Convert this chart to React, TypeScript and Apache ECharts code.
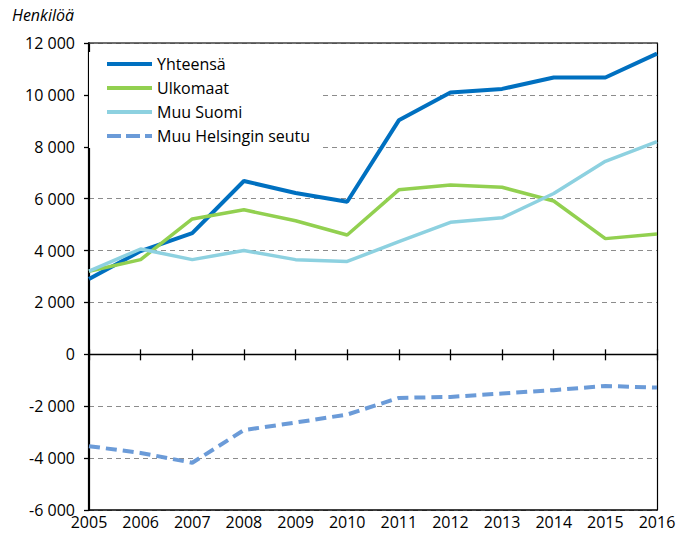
import React, { useEffect, useRef } from "react";
import * as echarts from "echarts";

const years = ["2005","2006","2007","2008","2009","2010","2011","2012","2013","2014","2015","2016"];
const yhteensa = [2900, 3980, 4670, 6680, 6220, 5880, 9020, 10090, 10230, 10670, 10670, 11590];
const ulkomaat = [3200, 3650, 5220, 5570, 5150, 4600, 6340, 6530, 6440, 5910, 4460, 4640];
const muuSuomi = [3210, 4060, 3650, 4000, 3650, 3580, 4340, 5090, 5260, 6200, 7440, 8200];
const muuHelsinginSeutu = [-3540, -3800, -4180, -2920, -2630, -2320, -1680, -1640, -1510, -1380, -1220, -1280];

const seriesNames = ["Yhteensä", "Ulkomaat", "Muu Suomi", "Muu Helsingin seutu"];
const FONT = "'Open Sans', sans-serif";

const SOLID_ICON = "path://M0,0H45V4H0Z";
const DASH_ICON = "path://M0,0H14V4H0Z M19,0H33V4H19Z M38,0H45V4H38Z";

function fmt(v: number): string {
  const s = Math.abs(v).toString();
  const withSp = s.replace(/\B(?=(\d{3})+(?!\d))/g, " ");
  return (v < 0 ? "-" : "") + withSp;
}

export default function App() {
  const ref = useRef<HTMLDivElement>(null);
  useEffect(() => {
    if (!ref.current) return;
    const chart = echarts.init(ref.current, undefined, { renderer: "svg" });
    const grid = { left: 89, right: 22, top: 43, bottom: 29, containLabel: false };
    chart.setOption({
      animation: false,
      backgroundColor: "#ffffff",
      textStyle: { fontFamily: FONT },
      graphic: [
        {
          type: "text",
          left: 12,
          top: 7,
          style: { text: "Henkilöä", font: "italic 16px " + FONT, fill: "#000" },
        },
      ],
      legend: {
        data: seriesNames.map((n, i) => ({ name: n, icon: i === 3 ? DASH_ICON : SOLID_ICON })),
        left: 89,
        top: 52,
        orient: "vertical",
        backgroundColor: "#ffffff",
        padding: [4, 10, 4, 18],
        itemWidth: 45,
        itemHeight: 4,
        itemGap: 8,
        textStyle: { fontFamily: FONT, fontSize: 16, color: "#000" },
        z: 10,
      },
      grid,
      xAxis: [
        {
          type: "category",
          data: years,
          boundaryGap: false,
          position: "bottom",
          axisLine: { onZero: false, lineStyle: { color: "#000", width: 1.5 } },
          axisTick: { show: false },
          axisLabel: { color: "#000", fontSize: 16, fontFamily: FONT, margin: 4 },
          splitLine: { show: false },
        },
        {
          type: "category",
          data: years,
          boundaryGap: false,
          position: "bottom",
          axisLine: { show: true, onZero: true, lineStyle: { color: "#000", width: 1.3 } },
          axisTick: { show: true, length: 6, lineStyle: { color: "#000", width: 1.3 } },
          axisLabel: { show: false },
          splitLine: { show: false },
        },
        {
          type: "category",
          data: years,
          boundaryGap: false,
          position: "bottom",
          axisLine: { show: false, onZero: true },
          axisTick: { show: true, inside: true, length: 5, lineStyle: { color: "#000", width: 1.3 } },
          axisLabel: { show: false },
          splitLine: { show: false },
        },
        {
          type: "category",
          data: years,
          boundaryGap: false,
          position: "top",
          axisLine: { show: true, onZero: false, lineStyle: { color: "#404040", width: 1.5 } },
          axisTick: { show: false },
          axisLabel: { show: false },
          splitLine: { show: false },
        },
      ],
      yAxis: [
        {
          type: "value",
          min: -6000,
          max: 12000,
          interval: 2000,
          position: "left",
          axisLine: { show: true, lineStyle: { color: "#000", width: 2.2 } },
          axisTick: { show: true, length: 5, lineStyle: { color: "#000", width: 1.3 } },
          axisLabel: {
            color: "#000",
            fontSize: 16,
            fontFamily: FONT,
            margin: 14,
            formatter: (v: number) => fmt(v),
          },
          splitLine: { show: true, lineStyle: { color: "#8c8c8c", type: [5, 4], width: 1.2 } },
        },
        {
          type: "value",
          min: -6000,
          max: 12000,
          interval: 2000,
          position: "right",
          axisLine: { show: true, lineStyle: { color: "#000", width: 1.2 } },
          axisTick: { show: false },
          axisLabel: { show: false },
          splitLine: { show: false },
        },
      ],
      series: [
        {
          name: "Yhteensä",
          type: "line",
          data: yhteensa,
          symbol: "none",
          lineStyle: { color: "#0070C0", width: 4 },
          itemStyle: { color: "#0070C0" },
        },
        {
          name: "Ulkomaat",
          type: "line",
          data: ulkomaat,
          symbol: "none",
          lineStyle: { color: "#92D050", width: 3.5 },
          itemStyle: { color: "#92D050" },
        },
        {
          name: "Muu Suomi",
          type: "line",
          data: muuSuomi,
          symbol: "none",
          lineStyle: { color: "#8DD1E0", width: 3.5 },
          itemStyle: { color: "#8DD1E0" },
        },
        {
          name: "Muu Helsingin seutu",
          type: "line",
          data: muuHelsinginSeutu,
          symbol: "none",
          lineStyle: { color: "#6B9BD8", width: 4, type: [11, 6] },
          itemStyle: { color: "#6B9BD8" },
        },
      ],
    });
    return () => chart.dispose();
  }, []);
  return (
    <div
      ref={ref}
      style={{ position: "fixed", left: 0, top: 0, width: 679, height: 539 }}
    />
  );
}
